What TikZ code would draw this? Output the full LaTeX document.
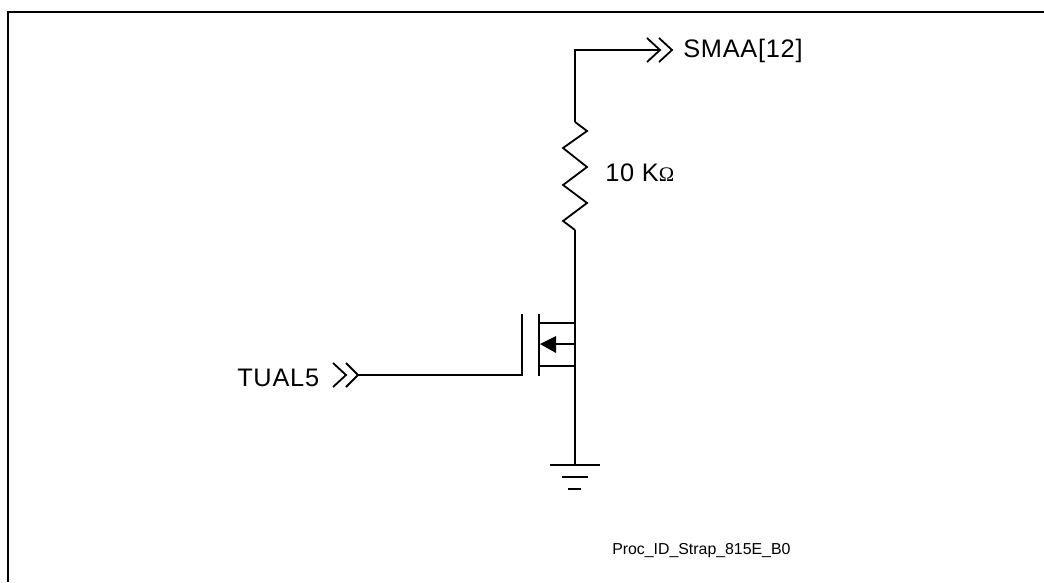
\documentclass[tikz,border=0pt]{standalone}
\usepackage{fontspec}
\setmainfont{Liberation Sans}
\newfontfamily\symbfont{Liberation Serif}
\newfontfamily\bigfont[LetterSpace=3]{Liberation Sans}
\tikzset{
    wire/.style={line width=1.35pt, line join=miter},
    frameline/.style={line width=1.6pt},
    biglabel/.style={inner sep=0pt, anchor=base west, font=\fontsize{19}{22}\selectfont\bigfont},
    smalllabel/.style={inner sep=0pt, anchor=base west, font=\fontsize{11.9}{14}\selectfont}
}
\begin{document}
\begin{tikzpicture}[x=0.75pt,y=-0.75pt]
    \useasboundingbox (0,0) rectangle (1044,582);
    \draw[frameline] (8,582) -- (8,12) -- (1044,12);
    % named points of the circuit
    \coordinate (corner) at (575,50);
    \coordinate (outtip) at (660,50);
    \coordinate (restop) at (575,122);
    \coordinate (resbot) at (575,230);
    \coordinate (drain) at (575,323);
    \coordinate (drainin) at (539,323);
    \coordinate (body) at (575,344);
    \coordinate (bodyin) at (556,344);
    \coordinate (bodytip) at (540,344);
    \coordinate (source) at (575,366);
    \coordinate (sourcein) at (539,366);
    \coordinate (gatein) at (522,375);
    \coordinate (intip) at (358,375);
    \coordinate (gnd) at (575,465);
    % output wire and double chevron
    \draw[wire] (restop) -- (corner) -- (outtip);
    \draw[wire] (647,38) -- (outtip) -- (647,62);
    \draw[wire] (659,38) -- (672,50) -- (659,62);
    \node[biglabel] (smaa) at (683,57) {SMAA[12]};
    % resistor
    \draw[wire] (restop) -- (587,131) -- (563,148) -- (587,167) -- (563,185) -- (587,203) -- (563,221) -- (resbot);
    \node[biglabel] (resval) at (605,181) {10 K{\fontsize{15.5}{18}\selectfont\symbfont Ω}};
    % transistor
    \draw[wire] (resbot) -- (drain) -- (drainin);
    \draw[wire] (539,314) -- (539,376);
    \draw[wire] (522,314) -- (gatein) -- (intip);
    \draw[wire] (sourcein) -- (source);
    \draw[wire] (bodyin) -- (body);
    \draw[wire] (drain) -- (body) -- (source) -- (gnd);
    \fill (bodytip) -- (556,336) -- (556,353) -- cycle;
    % input
    \draw[wire] (333,363) -- (346,375) -- (333,387);
    \draw[wire] (346,363) -- (intip) -- (346,387);
    \node[biglabel] (tual) at (237,386) {TUAL5};
    % ground
    \draw[wire] (550,465) -- (600,465);
    \draw[wire] (562,477) -- (588,477);
    \draw[wire] (568,489) -- (581,489);
    \node[smalllabel] (figid) at (612,554) {Proc\_ID\_Strap\_815E\_B0};
\end{tikzpicture}
\end{document}
